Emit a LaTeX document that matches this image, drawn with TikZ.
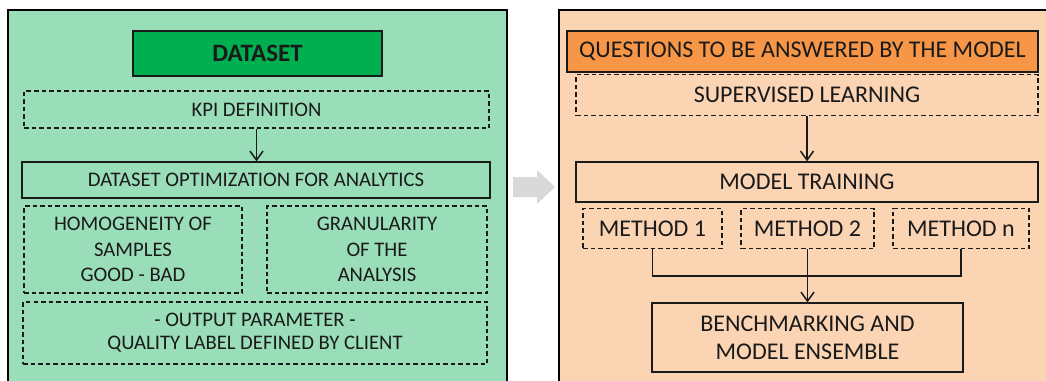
\documentclass[tikz,border=0pt]{standalone}
\usepackage{fontspec}
\setmainfont{Carlito}
\usetikzlibrary{arrows.meta}
\definecolor{mint}{HTML}{9ADEB9}
\definecolor{peach}{HTML}{FBD4B4}
\definecolor{hdgreen}{HTML}{00B050}
\definecolor{hdorange}{HTML}{F79646}
\definecolor{ink}{HTML}{1A1A1A}
\definecolor{flowgray}{HTML}{D9D9D9}
\tikzset{
  panel/.style={draw=black, line width=1.8pt},
  box/.style={draw=ink, line width=1.3pt, inner sep=0pt, align=center, text=ink},
  dbox/.style={draw=ink, line width=1.1pt, dash pattern=on 4.5pt off 3pt, inner sep=0pt, align=center, text=ink},
  lefttxt/.style={font=\fontsize{20.7}{25.5}\selectfont},
  righttxt/.style={font=\fontsize{24}{28}\selectfont},
  link/.style={draw=ink, line width=1.5pt},
  flow/.style={link, -{Straight Barb[length=9pt, width=13pt, line width=1.5pt]}}
}
\begin{document}
\begin{tikzpicture}[x=1pt, y=-1pt]
  \clip (0,0) rectangle (1046,380);
  \fill[white] (0,0) rectangle (1046,380);

  % two background panels
  \path[panel, fill=mint] (8,10) rectangle (507,400);
  \path[panel, fill=peach] (559,10) rectangle (1070,400);

  % block arrow between the panels
  \fill[flowgray] (513,177) -- (537,177) -- (537,170) -- (555,187)
                  -- (537,204) -- (537,197) -- (513,197) -- cycle;

  % dataset side
  \node[box, fill=hdgreen, minimum width=249pt, minimum height=45pt,
        font=\fontsize{25}{30}\selectfont\bfseries] (ds) at (257.5,53.5) {DATASET};
  \node[dbox, lefttxt, minimum width=465pt, minimum height=37pt] (kpi) at (256.5,109.5) {KPI DEFINITION};
  \node[box, lefttxt, minimum width=468pt, minimum height=36pt] (opt) at (256,180) {DATASET OPTIMIZATION FOR ANALYTICS};
  \node[dbox, lefttxt, minimum width=218pt, minimum height=87pt] (hom) at (133,249.5)
        {HOMOGENEITY OF\\SAMPLES\\GOOD - BAD};
  \node[dbox, lefttxt, minimum width=220pt, minimum height=87pt] (gran) at (377,249.5)
        {GRANULARITY\\OF THE\\ANALYSIS};
  \node[dbox, font=\fontsize{20.7}{23}\selectfont, minimum width=464pt, minimum height=62pt] (out) at (255,333)
        {- OUTPUT PARAMETER -\\QUALITY LABEL DEFINED BY CLIENT};

  \draw[flow] (kpi.south) -- (kpi.south |- opt.north);

  % model side
  \node[box, righttxt, fill=hdorange, minimum width=471pt, minimum height=41pt] (q) at (802.5,51.5)
        {QUESTIONS TO BE ANSWERED BY THE MODEL};
  \node[dbox, righttxt, minimum width=462pt, minimum height=41pt] (sup) at (807,95) {SUPERVISED LEARNING};
  \node[box, righttxt, minimum width=462pt, minimum height=40pt] (mt) at (807,182) {MODEL TRAINING};
  \node[dbox, righttxt, minimum width=139pt, minimum height=40pt] (m1) at (652.5,228.5) {METHOD 1};
  \node[dbox, righttxt, minimum width=133pt, minimum height=40pt] (m2) at (807.5,228.5) {METHOD 2};
  \node[dbox, righttxt, minimum width=136pt, minimum height=40pt] (mn) at (961,228.5) {METHOD n};
  \node[box, righttxt, minimum width=311pt, minimum height=69pt] (bm) at (807.5,337.5)
        {BENCHMARKING AND\\MODEL ENSEMBLE};

  \draw[flow] (sup.south) -- (sup.south |- mt.north);
  \coordinate (join) at (807.5,276);
  \draw[link] (m1.south) |- (join) -| (mn.south);
  \draw[flow] (m2.south) -- (m2.south |- bm.north);
\end{tikzpicture}
\end{document}
